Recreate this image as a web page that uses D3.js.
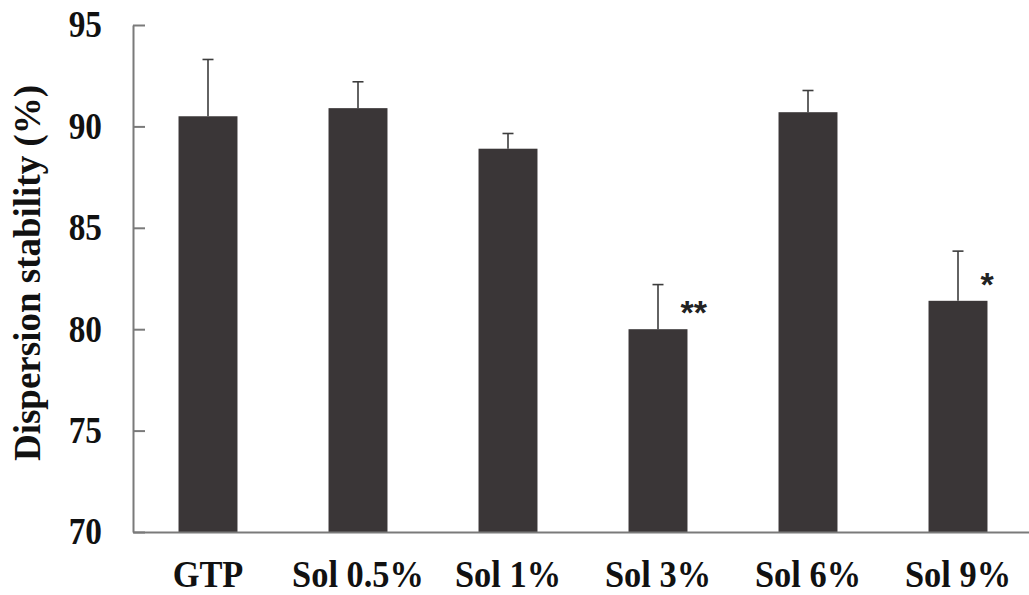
<!DOCTYPE html>
<html>
<head>
<meta charset="utf-8">
<script src="https://cdn.jsdelivr.net/npm/d3@7"></script>
<style>
  html, body { margin: 0; padding: 0; background: #fff; }
  svg { display: block; }
</style>
</head>
<body>
<svg id="chart" width="1029" height="595"></svg>
<script>
const categories = ["GTP", "Sol 0.5%", "Sol 1%", "Sol 3%", "Sol 6%", "Sol 9%"];
const values = [90.5, 90.9, 88.9, 80.0, 90.7, 81.4];
const errors = [2.8, 1.3, 0.75, 2.2, 1.07, 2.45];
const marks = ["", "", "", "**", "", "*"];
const yTicks = [70, 75, 80, 85, 90, 95];
const yLabel = "Dispersion stability (%)";

const svg = d3.select("#chart");
const plotLeft = 133, plotRight = 1033, plotTop = 25, plotBottom = 532;

const x = d3.scaleBand().domain(categories).range([plotLeft, plotRight])
  .paddingInner(0.607).paddingOuter(0.3035);
const y = d3.scaleLinear().domain([70, 95]).range([plotBottom, plotTop]);

const serif = "'Liberation Serif', 'Times New Roman', serif";
const barColor = "#3a3637";
const axisColor = "#7a7a7a";
const squeeze = 0.9;

// bars
svg.append("g").selectAll("rect").data(categories).join("rect")
  .attr("x", d => x(d))
  .attr("y", (d, i) => y(values[i]))
  .attr("width", x.bandwidth())
  .attr("height", (d, i) => y(70) - y(values[i]))
  .attr("fill", barColor);

// error bars
const eg = svg.append("g").attr("stroke", "#3d3d3d").attr("stroke-width", 1.6);
categories.forEach((c, i) => {
  const cx = x(c) + x.bandwidth() / 2;
  eg.append("line").attr("x1", cx).attr("x2", cx)
    .attr("y1", y(values[i])).attr("y2", y(values[i] + errors[i]));
  eg.append("line").attr("x1", cx - 5.5).attr("x2", cx + 5.5)
    .attr("y1", y(values[i] + errors[i])).attr("y2", y(values[i] + errors[i]));
});

// significance marks
svg.append("g").selectAll("text").data(categories).join("text")
  .attr("x", d => x(d) + x.bandwidth() - 7)
  .attr("y", (d, i) => y(values[i]) - 5)
  .attr("font-family", "'Liberation Sans', Arial, sans-serif")
  .attr("font-weight", "bold")
  .attr("font-size", 34)
  .attr("fill", "#222")
  .text((d, i) => marks[i]);

// y axis
const yAxis = svg.append("g").attr("transform", `translate(${plotLeft},0)`)
  .call(d3.axisLeft(y).tickValues(yTicks).tickSizeInner(-12).tickSizeOuter(0).tickPadding(31 / squeeze));
yAxis.select(".domain").attr("stroke", axisColor).attr("stroke-width", 2);
yAxis.selectAll(".tick line").attr("stroke", axisColor).attr("stroke-width", 2);
yAxis.selectAll(".tick text")
  .attr("transform", `scale(${squeeze},1)`)
  .attr("font-family", serif).attr("font-weight", "bold").attr("font-size", 37).attr("fill", "#111");

// x axis
const xAxis = svg.append("g").attr("transform", `translate(0,${plotBottom})`)
  .call(d3.axisBottom(x).tickSize(0).tickPadding(29));
xAxis.select(".domain").attr("stroke", axisColor).attr("stroke-width", 2);
xAxis.selectAll(".tick text")
  .attr("transform", `scale(${squeeze + 0.03},1)`)
  .attr("font-family", serif).attr("font-weight", "bold").attr("font-size", 37).attr("fill", "#111");

// y label
svg.append("text")
  .attr("transform", "translate(40,273) rotate(-90)")
  .attr("text-anchor", "middle")
  .attr("font-family", serif).attr("font-weight", "bold").attr("font-size", 37)
  .attr("fill", "#111")
  .text(yLabel);
</script>
</body>
</html>
